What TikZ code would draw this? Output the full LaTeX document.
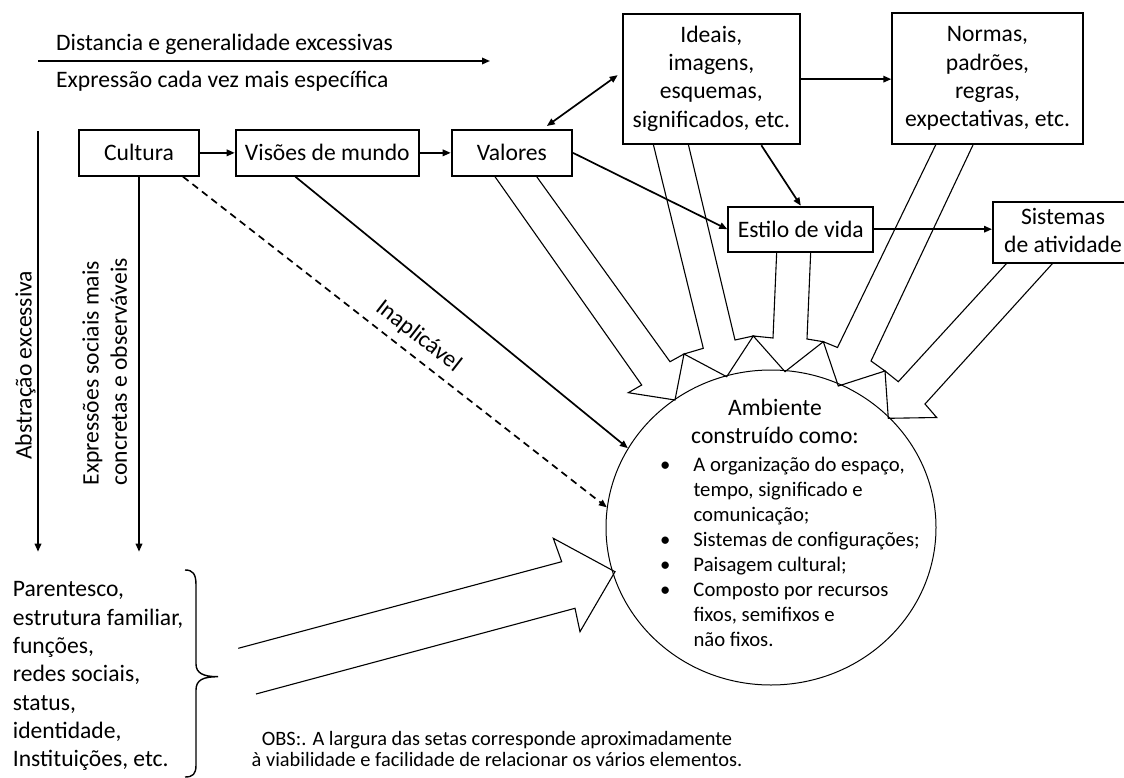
\documentclass[tikz,border=0pt]{standalone}
\usepackage{fontspec}
\setmainfont{Carlito}
\usetikzlibrary{arrows.meta,shapes.geometric,calc}
\newcommand\bigfs{\fontsize{23.6}{28.3}\selectfont}
\newcommand\smallfs{\fontsize{20.7}{25}\selectfont}
\newcommand\obsfs{\fontsize{20.4}{21.7}\selectfont}
\newcommand\mlines[1]{\begin{tabular}{@{}c@{}}#1\end{tabular}}
\newcommand\llines[1]{\begin{tabular}{@{}l@{}}#1\end{tabular}}

\begin{document}
\begin{tikzpicture}[x=1pt,y=-1pt,
  box/.style={draw,line width=2pt,inner sep=0pt,font=\bigfs},
  conn/.style={line width=1.7pt,-{Triangle[length=8pt,width=6.5pt]}},
  twoway/.style={line width=1.7pt,{Triangle[length=8pt,width=6.5pt]}-{Triangle[length=8pt,width=6.5pt]}},
  dashconn/.style={conn,dash pattern=on 7pt off 5pt},
  wide/.style={line width=1.1pt,line join=miter},
  txt/.style={inner sep=0pt,font=\bigfs},
  stxt/.style={inner sep=0pt,font=\smallfs}]

\fill[white] (0,0) rectangle (1124,778);
\useasboundingbox (0,0) rectangle (1124,778);
\clip (0,0) rectangle (1124,778);

% heading arrow with its two captions
\coordinate (h0) at (38,61);
\coordinate (h1) at (490,61);
\draw[conn] (h0) -- (h1);
\node[txt,anchor=base west] (dist) at (56,50.5) {Distancia e generalidade excessivas};
\node[txt,anchor=base west] (expr) at (56,87.5) {Expressão cada vez mais específica};

% boxes
\node[box,minimum width=120,minimum height=45.7] (cult) at (139,152.85) {Cultura};
\node[box,minimum width=183.3,minimum height=45.7] (vis) at (327.35,152.85) {Visões de mundo};
\node[box,minimum width=120.3,minimum height=45.7] (val) at (511.85,152.85) {Valores};
\node[box,minimum width=177.3,minimum height=130.3] (ide) at (711.35,79.15)
  {\mlines{Ideais,\\imagens,\\esquemas,\\significados, etc.}};
\node[box,minimum width=190.4,minimum height=131.6] (nor) at (987.5,78.5)
  {\mlines{Normas,\\padrões,\\regras,\\expectativas, etc.}};
\node[box,minimum width=145,minimum height=45] (est) at (800.8,229.2) {Estilo de vida};
\node[box,minimum width=140,minimum height=61.6] (sis) at (1063,232.5)
  {\mlines{Sistemas\\de atividade}};

% built environment
\node[draw,ellipse,line width=1pt,minimum width=330,minimum height=315,inner sep=0pt] (amb) at (771,527.5) {};
\node[txt,anchor=north] (ambt) at (775,395.2) {\mlines{Ambiente\\construído como:}};
\node[stxt,anchor=north west] (ambl) at (660,454.2)
  {\begin{tabular}{@{}p{33.3pt}@{}l@{}}
   \textbullet & A organização do espaço,\\
               & tempo, significado e\\
               & comunicação;\\
   \textbullet & Sistemas de configurações;\\
   \textbullet & Paisagem cultural;\\
   \textbullet & Composto por recursos\\
               & fixos, semifixos e\\
               & não fixos.
   \end{tabular}};

% wide arrows towards the environment
\draw[wide] (495,176.7) -- (641.7,385) -- (628.3,392.7) -- (675,400) -- (684,354) -- (670,361.7) -- (536.7,176.7);
\draw[wide] (653.3,144.3) -- (703.3,348.3) -- (684,354) -- (726.7,376.7) -- (753.3,336) -- (735,340) -- (688.3,144.3);
\draw[wide] (776.7,251.7) -- (773,338) -- (753.3,336) -- (785,371.7) -- (823.3,341.7) -- (807,339) -- (810.7,251.7);
\draw[wide] (936,144.3) -- (837.5,347.5) -- (823.3,341.7) -- (838.3,386) -- (885,371) -- (871,361) -- (973.3,144.3);
\draw[wide] (1006.7,263.3) -- (898.3,381.7) -- (885,371) -- (888.3,418.3) -- (936.7,417.5) -- (925,404) -- (1052.7,263.3);
\draw[wide] (238.3,648.3) -- (561.7,561.7) -- (553.3,538.3) -- (615,571.7) -- (580,631.7) -- (575,608.3) -- (256,694);

% connectors between boxes
\draw[conn] (cult.east) -- (vis.west);
\draw[conn] (vis.east) -- (val.west);
\draw[twoway] ([xshift=35,yshift=3]val.north) -- ([xshift=-4,yshift=4]ide.west);
\draw[conn] (ide.east) -- (ide.east -| nor.west);
\draw[conn] (val.east) -- (est.west);
\draw[conn] ([xshift=50]ide.south) -- (est.north);
\draw[conn] (est.east) -- (est.east -| sis.west);
\draw[conn] ([xshift=-32]vis.south) -- (amb.151);
\draw[dashconn] ([xshift=-17]cult.south east) -- (amb.173)
  node[txt,pos=0.528,sloped,above=8pt] (inap) {Inaplicável};

% vertical arrows with their captions
\coordinate (v0) at (38,131);
\coordinate (v1) at (38,551.7);
\draw[conn] (v0) -- (v1);
\coordinate (w1) at (cult.south |- v1);
\draw[conn] (cult.south) -- (w1);
\node[txt,rotate=90,anchor=base west] (abst) at (31.7,460) {Abstração excessiva};
\node[txt,rotate=90,anchor=north west] (exps) at (78.5,485.5)
  {\llines{Expressões sociais mais\\concretas e observáveis}};

% social expressions with brace
\node[txt,anchor=north west] (rel) at (12.7,576.9)
  {\llines{Parentesco,\\estrutura familiar,\\funções,\\redes sociais,\\status,\\identidade,\\Instituições, etc.}};
\draw[line width=1.4pt] (185,570) .. controls (193,570) and (196,574) .. (196,585) -- (196,664)
  .. controls (196,673) and (203,676.7) .. (218,676.7)
  .. controls (203,676.7) and (196,680) .. (196,690) -- (196,765)
  .. controls (196,774) and (193,777) .. (185,777);

% note
\node[inner sep=0pt,font=\obsfs,anchor=north] (obs) at (497,729.8)
  {\mlines{OBS:. A largura das setas corresponde aproximadamente\\à viabilidade e facilidade de relacionar os vários elementos.}};

\end{tikzpicture}
\end{document}
